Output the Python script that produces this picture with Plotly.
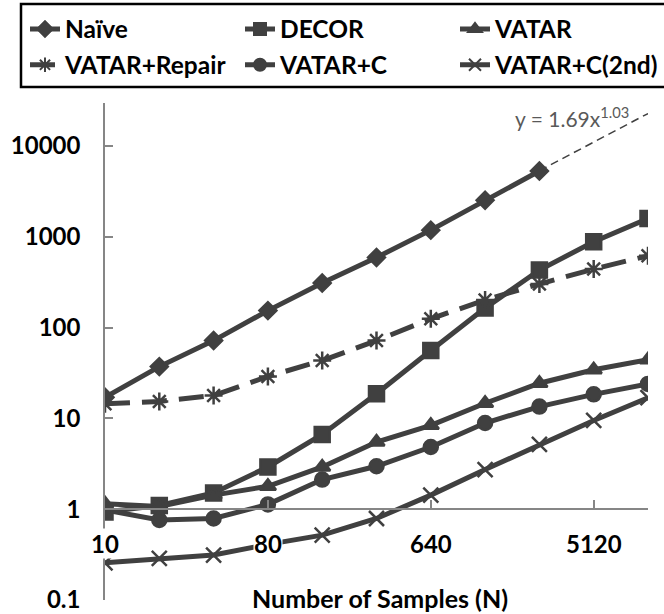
import plotly.graph_objects as go
import math

# ---- data ----
x_samples = [10, 20, 40, 80, 160, 320, 640, 1280, 2560, 5120, 10240]
naive = [17.1, 37.2, 72, 154, 310, 593, 1185, 2530, 5310]
decor = [0.93, 1.1, 1.51, 2.92, 6.67, 18.7, 55.9, 164, 431, 881, 1589]
vatar = [1.15, 1.07, 1.43, 1.79, 2.92, 5.5, 8.4, 14.7, 24.4, 34.3, 44.2]
vatar_repair = [14.5, 15.4, 17.9, 29, 43.4, 72, 125, 202, 302, 442, 618]
vatar_c = [0.98, 0.76, 0.79, 1.13, 2.12, 2.97, 4.84, 8.9, 13.5, 18.4, 24]
vatar_c2 = [0.257, 0.287, 0.313, 0.41, 0.518, 0.79, 1.43, 2.73, 5.18, 9.5, 16.9]
trend_x = [2560, 10240]
trend_y = [5350, 22800]
x_tickvals = [10, 80, 640, 5120]
x_ticktext = ["10", "80", "640", "5120"]
y_tickvals = [0.1, 1, 10, 100, 1000, 10000]
y_ticktext = ["0.1", "1", "10", "100", "1000", "10000"]

DARK = "#404040"
GREY = "#868686"
FONT = "Lato"

W, H = 664, 614
ML, MR, MT, MB = 105, 16, 103, 14
PW, PH = W - ML - MR, H - MT - MB


def px_x(p):
    return (p - ML) / PW


def px_y(p):
    return (H - MB - p) / PH


fig = go.Figure()

fig.add_trace(go.Scatter(x=trend_x, y=trend_y, mode="lines", showlegend=False,
                         line=dict(color=DARK, width=1.5, dash="8px,5px")))

series = [
    ("Naïve", naive, "diamond", 13, "solid", "legend"),
    ("DECOR", decor, "square", 15, "solid", "legend2"),
    ("VATAR", vatar, "triangle-up", 14, "solid", "legend3"),
    ("VATAR+Repair", vatar_repair, "asterisk-open", 15, "25px,12px", "legend"),
    ("VATAR+C", vatar_c, "circle", 14, "solid", "legend2"),
    ("VATAR+C(2nd)", vatar_c2, "x-thin-open", 15, "solid", "legend3"),
]
for name, ys, sym, sz, dash, lg in series:
    fig.add_trace(go.Scatter(
        x=x_samples[:len(ys)], y=ys, name=name, mode="lines+markers",
        legend=lg, legendgroup=name,
        line=dict(color=DARK, width=5, dash=dash),
        marker=dict(symbol=sym, size=sz, color=DARK,
                    line=dict(color=DARK, width=2.5)),
    ))

ylo, yhi = -1, 4.474
pos_x_axis = (0 - ylo) / (yhi - ylo)

legfont = dict(family=FONT, size=24.5, color="black", weight="bold")
legcommon = dict(orientation="v", yanchor="top", xanchor="left", y=px_y(6.5),
                 borderwidth=0, bgcolor="rgba(0,0,0,0)", font=legfont,
                 tracegroupgap=1, itemwidth=30, itemsizing="constant")

fig.update_layout(
    width=W, height=H,
    margin=dict(l=ML, r=MR, t=MT, b=MB, autoexpand=False),
    plot_bgcolor="white", paper_bgcolor="white",
    font=dict(family=FONT, size=24, color="black", weight="bold"),
    showlegend=True,
    legend=dict(x=px_x(25), **legcommon),
    legend2=dict(x=px_x(240), **legcommon),
    legend3=dict(x=px_x(455), **legcommon),
    xaxis=dict(type="log", range=[1, math.log10(10240)], anchor="free",
               position=pos_x_axis, showgrid=False, zeroline=False,
               showline=True, linecolor=GREY, linewidth=1.5,
               tickvals=x_tickvals, showticklabels=False,
               ticks="inside", ticklen=8, tickcolor=GREY, tickwidth=1.5),
    yaxis=dict(type="log", range=[ylo, yhi], showgrid=False, zeroline=False,
               showline=True, linecolor=GREY, linewidth=1.5,
               tickvals=y_tickvals, ticktext=y_ticktext,
               ticks="inside", ticklen=8, tickcolor=GREY, tickwidth=1.5,
               ticklabelstandoff=18,
               tickfont=dict(family=FONT, size=24, color="black", weight="bold")),
)

# legend frame
fig.add_shape(type="rect", xref="paper", yref="paper",
              x0=px_x(21), x1=px_x(667), y0=px_y(87), y1=px_y(4),
              line=dict(color="black", width=2.5), fillcolor="rgba(0,0,0,0)")

# x tick labels drawn over the lines (as in the reference)
for v, t in zip(x_tickvals, x_ticktext):
    fig.add_annotation(text=t, x=math.log10(v), xref="x", yref="paper",
                       y=pos_x_axis - 34 / PH, xanchor="center", yanchor="middle",
                       showarrow=False, bgcolor="white", borderpad=0,
                       font=dict(family=FONT, size=24, color="black", weight="bold"))

fig.add_annotation(text="Number of Samples (N)", xref="paper", yref="paper",
                   x=px_x(380), y=px_y(598), xanchor="center", yanchor="middle",
                   showarrow=False,
                   font=dict(family=FONT, size=25, color="black", weight="bold"))
fig.add_annotation(text="y = 1.69x<sup>1.03</sup>", xref="paper", yref="paper",
                   x=px_x(631), y=px_y(117), xanchor="right", yanchor="middle",
                   showarrow=False,
                   font=dict(family=FONT, size=21, color="#595959", weight="normal"))

fig.write_html("out.html")
